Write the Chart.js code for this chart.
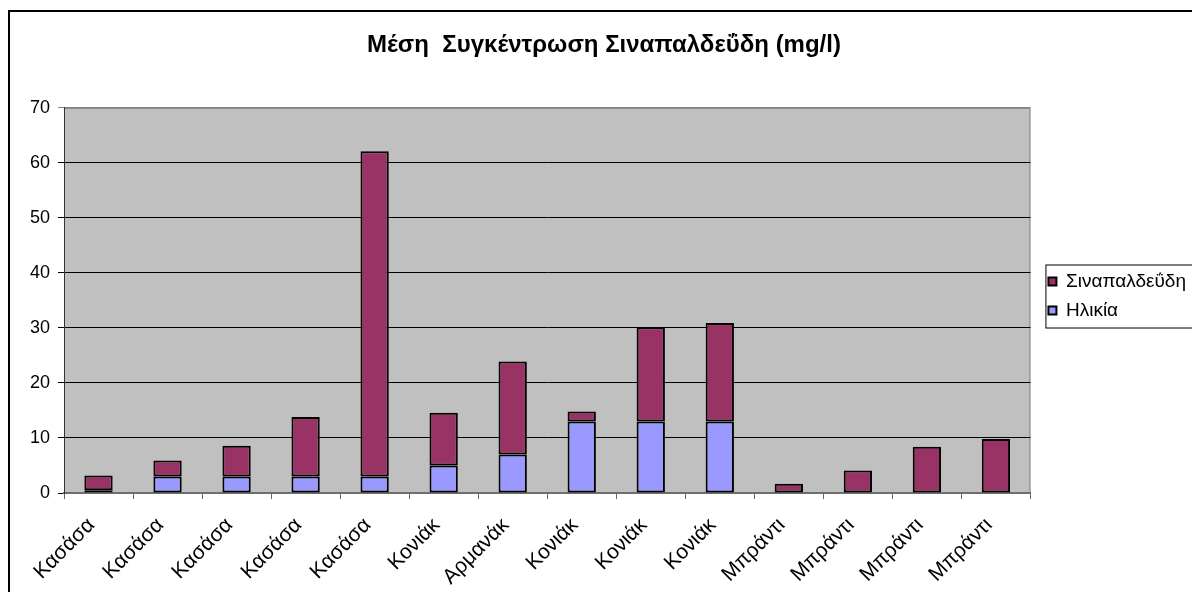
<!DOCTYPE html>
<html>
<head>
<meta charset="utf-8">
<script src="https://cdn.jsdelivr.net/npm/chart.js@4/dist/chart.umd.min.js"></script>
<style>
  html, body { margin: 0; padding: 0; background: #fff; }
  canvas { display: block; }
</style>
</head>
<body>
<canvas id="chart" width="1192" height="592"></canvas>
<script>
// --- Données ---
const categories = ['Κασάσα', 'Κασάσα', 'Κασάσα', 'Κασάσα', 'Κασάσα', 'Κονιάκ', 'Αρμανάκ',
  'Κονιάκ', 'Κονιάκ', 'Κονιάκ', 'Μπράντι', 'Μπράντι', 'Μπράντι', 'Μπράντι'];
const ilikia = [0.5, 3, 3, 3, 3, 5, 7, 13, 13, 13, 0, 0, 0, 0];
const sinapaldeydi = [2.7, 2.9, 5.6, 10.8, 59.1, 9.6, 16.9, 1.8, 17.1, 17.9, 1.7, 4.1, 8.4, 9.8];
const yTicks = [0, 10, 20, 30, 40, 50, 60, 70];
const chartTitle = 'Μέση  Συγκέντρωση Σιναπαλδεΰδη (mg/l)';

const FONT = "'Liberation Sans', Arial, sans-serif";

// --- Fond gris de la zone de tracé, cadre, boîte de légende ---
const excelFrame = {
  id: 'excelFrame',
  beforeDraw(chart) {
    const { ctx, chartArea: a } = chart;
    ctx.save();
    ctx.fillStyle = '#fff';
    ctx.fillRect(0, 0, chart.width, chart.height);
    ctx.strokeStyle = '#000';
    ctx.lineWidth = 2;
    ctx.strokeRect(9, 11, chart.width + 40, chart.height + 40);
    ctx.fillStyle = '#C0C0C0';
    ctx.fillRect(a.left, a.top, a.right - a.left, a.bottom - a.top);
    ctx.strokeStyle = '#808080';
    ctx.lineWidth = 1;
    ctx.strokeRect(a.left + 0.5, a.top + 0.5, a.right - a.left - 1, a.bottom - a.top);
    ctx.restore();
  },
  afterLayout(chart) {
    // décaler la légende un peu vers la droite
    chart.legend.left += 8;
    chart.legend.right += 8;
  },
  afterDraw(chart) {
    const lg = chart.legend;
    const boxes = lg.legendHitBoxes;
    if (!boxes || !boxes.length) return;
    const ctx = chart.ctx;
    const top = boxes[0].top + boxes[0].height / 2 - 17;
    const last = boxes[boxes.length - 1];
    const bottom = last.top + last.height / 2 + 17;
    ctx.save();
    ctx.strokeStyle = '#000';
    ctx.lineWidth = 1;
    ctx.strokeRect(boxes[0].left - 2.5, top + 0.5, 300, bottom - top);
    ctx.restore();
  }
};

new Chart(document.getElementById('chart'), {
  type: 'bar',
  data: {
    labels: categories,
    datasets: [
      {
        label: 'Ηλικία',
        data: ilikia,
        backgroundColor: '#9999FF',
        borderColor: '#000',
        borderWidth: 2,
        borderSkipped: false
      },
      {
        label: 'Σιναπαλδεΰδη',
        data: sinapaldeydi,
        backgroundColor: '#993366',
        borderColor: '#000',
        borderWidth: 2,
        borderSkipped: false
      }
    ]
  },
  options: {
    responsive: false,
    animation: false,
    devicePixelRatio: 1,
    layout: { padding: { left: 20, right: 4, top: 0, bottom: 0 } },
    datasets: { bar: { categoryPercentage: 1, barPercentage: 0.41 } },
    plugins: {
      tooltip: { enabled: false },
      title: {
        display: true,
        text: chartTitle,
        color: '#000',
        font: { family: FONT, size: 24, weight: 'bold' },
        padding: { top: 31, bottom: 48 }
      },
      legend: {
        position: 'right',
        reverse: true,
        maxWidth: 162,
        labels: {
          color: '#000',
          font: { family: FONT, size: 19 },
          boxWidth: 8,
          boxHeight: 8,
          padding: 10
        }
      }
    },
    scales: {
      x: {
        stacked: true,
        grid: { offset: true, drawOnChartArea: false, color: '#666', tickLength: 6 },
        border: { color: '#6e6e6e', width: 2 },
        ticks: {
          color: '#000',
          font: { family: FONT, size: 21 },
          minRotation: 45,
          maxRotation: 45,
          autoSkip: false,
          padding: 14,
          labelOffset: -7
        },
        afterFit(scale) { scale.height = 99; }
      },
      y: {
        stacked: true,
        min: 0,
        max: 70,
        afterBuildTicks(scale) { scale.ticks = yTicks.map(v => ({ value: v })); },
        grid: {
          color: ctx => (ctx.tick && ctx.tick.value === 70 ? '#808080' : '#000'),
          tickLength: 6
        },
        border: { color: '#333', width: 1 },
        ticks: {
          color: '#000',
          font: { family: FONT, size: 18 },
          padding: 8
        },
        afterFit(scale) { scale.width = 44; }
      }
    }
  },
  plugins: [excelFrame]
});
</script>
</body>
</html>
